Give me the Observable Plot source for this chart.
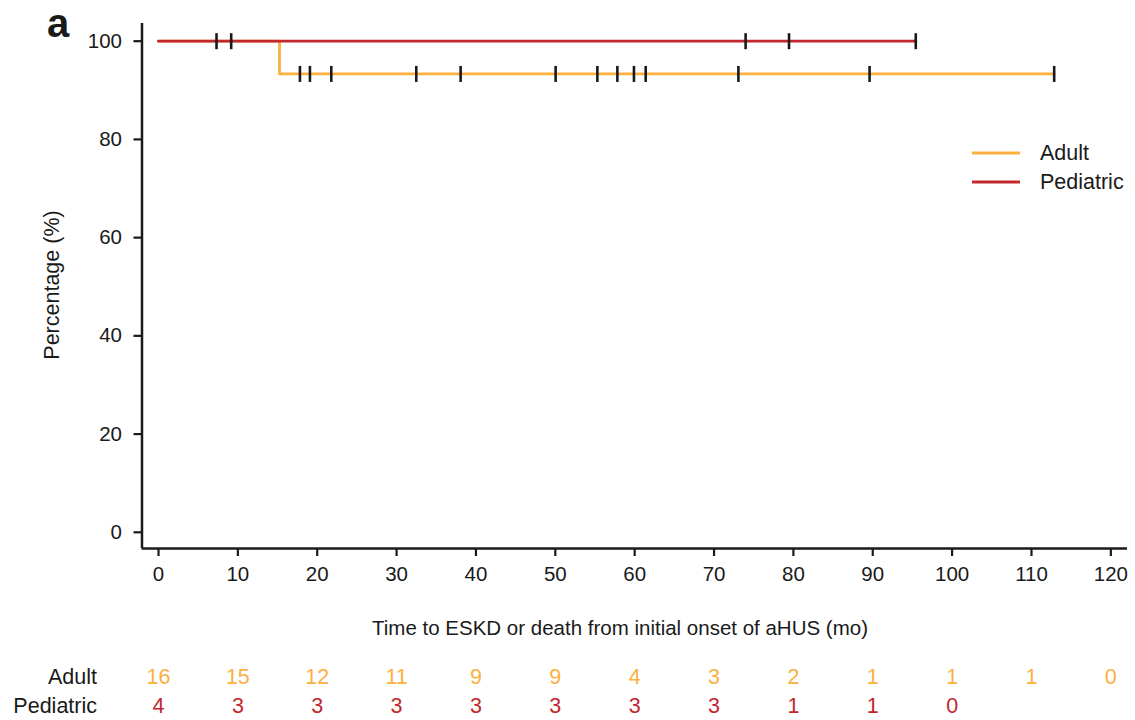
<!DOCTYPE html>
<html>
<head>
<meta charset="utf-8">
<script src="https://cdn.jsdelivr.net/npm/d3@7"></script>
<script src="https://cdn.jsdelivr.net/npm/@observablehq/plot@0.6"></script>
<style>
  html, body { margin: 0; padding: 0; background: #fff; }
  body { width: 1135px; height: 720px; position: relative; overflow: hidden;
         font-family: "Liberation Sans", Arial, Helvetica, sans-serif; color: #1a1a1a; }
  .abs { position: absolute; white-space: nowrap; }
  #main, #risk { position: absolute; left: 0; }
  #main { top: 0; }
  #risk { top: 645px; }
  g[aria-label^="x-axis"] line, g[aria-label^="x-axis"] path,
  g[aria-label^="y-axis"] line, g[aria-label^="y-axis"] path { stroke-width: 2.2px; }
</style>
</head>
<body>
<div id="main"></div>
<div id="risk"></div>
<div class="abs" id="panel" style="left:47px; top:2.6px; font-size:40px; font-weight:bold; line-height:1;">a</div>
<div class="abs" id="ylab" style="left:52.5px; top:285px; font-size:21.5px; line-height:1; transform:translate(-50%,-50%) rotate(-90deg);">Percentage (%)</div>
<div class="abs" id="xlab" style="left:620px; top:618px; font-size:20.5px; line-height:1; transform:translate(-50%,0);">Time to ESKD or death from initial onset of aHUS (mo)</div>
<div class="abs" id="legend" style="left:972px; top:140px; font-size:21.5px;"></div>
<script>
// ---- data ----
const groups = ["Adult", "Pediatric"];
const groupColors = ["#FBB040", "#C1272D"];

// Kaplan–Meier step points (time in months, survival %)
const adultTimes = [0, 15.25, 112.86];
const adultSurv  = [100, 93.33, 93.33];
const pedTimes   = [0, 95.42];
const pedSurv    = [100, 100];

// censor marks
const adultCensorTimes = [17.82, 19.08, 21.77, 32.48, 38.07, 50.04, 55.3, 57.82, 59.91, 61.39, 73.07, 89.6, 112.86];
const adultCensorSurv = 93.33;
const pedCensorTimes = [7.31, 9.16, 73.98, 79.45, 95.42];
const pedCensorSurv = 100;

// axis ticks
const xTicks = [0, 10, 20, 30, 40, 50, 60, 70, 80, 90, 100, 110, 120];
const yTicks = [0, 20, 40, 60, 80, 100];

// numbers at risk
const riskTimes = [0, 10, 20, 30, 40, 50, 60, 70, 80, 90, 100, 110, 120];
const adultAtRisk = [16, 15, 12, 11, 9, 9, 4, 3, 2, 1, 1, 1, 0];
const pedAtRisk   = [4, 3, 3, 3, 3, 3, 3, 3, 1, 1, 0];

// ---- build tables ----
const curve = [
  ...adultTimes.map((t, i) => ({group: "Adult", t, s: adultSurv[i]})),
  ...pedTimes.map((t, i) => ({group: "Pediatric", t, s: pedSurv[i]}))
];
const censors = [
  ...adultCensorTimes.map(t => ({group: "Adult", t, s: adultCensorSurv})),
  ...pedCensorTimes.map(t => ({group: "Pediatric", t, s: pedCensorSurv}))
];
const risk = [
  ...adultAtRisk.map((n, i) => ({group: "Adult", t: riskTimes[i], n})),
  ...pedAtRisk.map((n, i) => ({group: "Pediatric", t: riskTimes[i], n}))
];

const xDomain = [-2.08, 122.1];
const yDomain = [-3.3, 103.6];
const colorScale = {domain: groups, range: groupColors};

const tickSymbol = {
  draw(ctx, size) {
    const h = Math.sqrt(size / Math.PI);
    ctx.moveTo(0, -h);
    ctx.lineTo(0, h);
  }
};

const font = '"Liberation Sans", Arial, Helvetica, sans-serif';

const main = Plot.plot({
  width: 1135,
  height: 600,
  marginLeft: 141.5,
  marginRight: 8,
  marginTop: 23,
  marginBottom: 52,
  style: {fontFamily: font, fontSize: "20.5px", color: "#1a1a1a", background: "#fff", overflow: "visible"},
  x: {domain: xDomain, ticks: xTicks, tickSize: 8, tickPadding: 10, label: null},
  y: {domain: yDomain, ticks: yTicks, tickSize: 8, tickPadding: 12, label: null},
  color: colorScale,
  marks: [
    Plot.ruleX([xDomain[0]], {stroke: "#1a1a1a", strokeWidth: 2.5}),
    Plot.ruleY([yDomain[0]], {stroke: "#1a1a1a", strokeWidth: 2.5}),
    Plot.line(curve.filter(d => d.group === "Adult"), {x: "t", y: "s", stroke: "group", curve: "step-after", strokeWidth: 2.8}),
    Plot.line(curve.filter(d => d.group === "Pediatric"), {x: "t", y: "s", stroke: "group", curve: "step-after", strokeWidth: 2.8}),
    Plot.dot(censors, {x: "t", y: "s", symbol: tickSymbol, r: 8, fill: "none", stroke: "#1a1a1a", strokeWidth: 2.6})
  ]
});
document.getElementById("main").appendChild(main);

const riskPlot = Plot.plot({
  width: 1135,
  height: 75,
  marginLeft: 141.5,
  marginRight: 8,
  marginTop: 32,
  marginBottom: 14,
  style: {fontFamily: font, fontSize: "21.5px", color: "#1a1a1a", background: "#fff", overflow: "visible"},
  x: {domain: xDomain, axis: null},
  y: {type: "point", domain: groups, padding: 0, tickSize: 0, tickPadding: 45, label: null},
  color: colorScale,
  marks: [
    Plot.text(risk, {x: "t", y: "group", text: d => String(d.n), fill: "group", fontSize: 21.5})
  ]
});
document.getElementById("risk").appendChild(riskPlot);

// legend
const legend = document.getElementById("legend");
groups.forEach((g, i) => {
  const row = document.createElement("div");
  row.style.cssText = `position:absolute; left:0; top:${i * 28.5}px; height:26px; display:flex; align-items:center;`;
  row.innerHTML = `<svg width="48" height="26" style="display:block"><line x1="0" x2="48" y1="13" y2="13" stroke="${groupColors[i]}" stroke-width="3"/></svg><span style="margin-left:20px; line-height:26px;">${g}</span>`;
  legend.appendChild(row);
});
</script>
</body>
</html>
